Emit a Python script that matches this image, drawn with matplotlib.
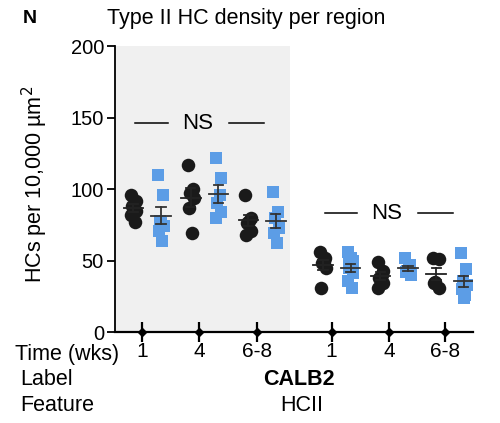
import matplotlib
matplotlib.use("Agg")
import matplotlib.pyplot as plt
import numpy as np

plt.rcParams['font.family'] = ['Liberation Sans', 'DejaVu Sans']

time_labels = ["1", "4", "6-8", "1", "4", "6-8"]
black_vals = [
    [96, 92, 88, 85, 82, 77],
    [117, 100, 97, 94, 87, 69],
    [96, 80, 76, 71, 68, 78],
    [56, 52, 48, 45, 31, 50],
    [49, 43, 38, 34, 31, 40],
    [52, 51, 35, 31, 34],
]
blue_vals = [
    [110, 96, 78, 74, 71, 64, 76],
    [122, 108, 90, 84, 80, 96],
    [98, 84, 80, 73, 69, 62],
    [56, 50, 45, 41, 36, 31, 52, 48],
    [52, 47, 43, 40, 42, 44],
    [55, 44, 36, 33, 30, 26, 24],
]
ns_levels = [146, 83]

fig = plt.figure(figsize=(5.0, 4.23), dpi=100)
ax = fig.add_axes([0.23, 0.215, 0.716, 0.676])

pos = np.array([0, 1, 2, 3.3, 4.3, 5.27])
xmin, xmax = -0.47, 5.76
ax.set_xlim(xmin, xmax)
ax.set_ylim(0, 200)
ax.axvspan(xmin, 2.57, ymin=0, ymax=1, color='#f0f0f0', zorder=0, lw=0)

black_c = '#1a1a1a'
blue_c = '#5c9de6'
jit = np.array([-0.05, 0.04, -0.02, 0.05, -0.04, 0.02, 0.0, -0.03])

for i, p in enumerate(pos):
    bv = np.array(black_vals[i], float)
    xb = p - 0.15 + jit[:len(bv)]
    ax.scatter(xb, bv, s=95, marker='o', color=black_c, zorder=3, lw=0)
    qv = np.array(blue_vals[i], float)
    xq = p + 0.33 + jit[:len(qv)]
    ax.scatter(xq, qv, s=80, marker='s', color=blue_c, zorder=3, lw=0)
    for xc, v, ec in [(p - 0.15, bv, '#222222'), (p + 0.33, qv, '#333333')]:
        m = v.mean()
        se = v.std(ddof=1) / np.sqrt(len(v))
        ax.plot([xc - 0.17, xc + 0.17], [m, m], color=ec, lw=1.3, zorder=4)
        ax.plot([xc, xc], [m - se, m + se], color=ec, lw=1.3, zorder=4)
        for yy in (m - se, m + se):
            ax.plot([xc - 0.08, xc + 0.08], [yy, yy], color=ec, lw=1.3, zorder=4)

# NS annotations
for x0, lvl in zip([pos[0], pos[3]], ns_levels):
    ax.plot([x0 - 0.12, x0 + 0.45], [lvl, lvl], color='black', lw=1.1)
    ax.plot([x0 + 1.51, x0 + 2.12], [lvl, lvl], color='black', lw=1.1)
    ax.text(x0 + 0.96, lvl, "NS", ha='center', va='center', fontsize=16)

ax.spines['top'].set_visible(False)
ax.spines['right'].set_visible(False)
ax.spines['left'].set_linewidth(1.3)
ax.spines['bottom'].set_linewidth(1.6)
ax.set_yticks([0, 50, 100, 150, 200])
ax.tick_params(axis='y', labelsize=14.5, length=6, width=1.3, pad=2)
ax.set_xticks(pos)
ax.set_xticklabels(time_labels, fontsize=15)
ax.tick_params(axis='x', direction='inout', length=14, width=1.6, pad=0)
ax.plot(pos, np.zeros(len(pos)), 'D', color='black', ms=4, clip_on=False, zorder=5)

fig.text(0.07, 0.563, "HCs per 10,000 µm$^2$", fontsize=15.5, rotation=90,
         ha='center', va='center')
fig.text(0.045, 0.957, "N", fontsize=14, fontweight='bold', ha='left', va='center')
fig.text(0.492, 0.957, "Type II HC density per region", fontsize=15.5, ha='center', va='center')
fig.text(0.03, 0.163, "Time (wks)", fontsize=15.5, ha='left', va='center')
fig.text(0.04, 0.102, "Label", fontsize=15.5, ha='left', va='center')
fig.text(0.04, 0.042, "Feature", fontsize=15.5, ha='left', va='center')
fig.text(0.597, 0.102, "CALB2", fontsize=15.5, fontweight='bold', ha='center', va='center')
fig.text(0.603, 0.042, "HCII", fontsize=15.5, ha='center', va='center')

fig.savefig("out.png", dpi=100)
